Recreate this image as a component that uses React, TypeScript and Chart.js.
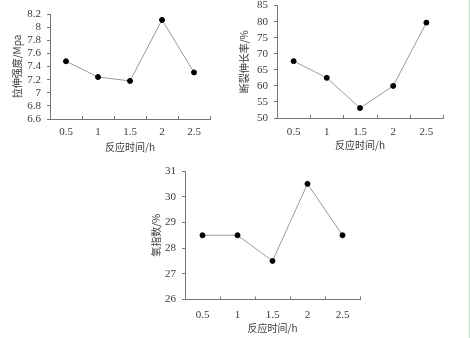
import React, { useEffect, useRef } from "react";
import { Chart, registerables } from "chart.js";

Chart.register(...registerables);

const categories = ["0.5", "1", "1.5", "2", "2.5"];
const tensileStrength = [7.48, 7.24, 7.18, 8.11, 7.31];
const elongation = [67.7, 62.5, 53.1, 60.0, 79.7];
const oxygenIndex = [28.5, 28.5, 27.5, 30.5, 28.5];

const xTitle = "反应时间/h";
const yTitles = ["拉伸强度/Mpa", "断裂伸长率/%", "氧指数/%"];

const NUM_FONT = "'Liberation Serif', 'DejaVu Serif', serif";
const CJK_FONT = "'Noto Sans CJK SC', sans-serif";
const TEXT = "#3a3a3a";
const AXIS = "#777777";

const upTicks = {
  id: "upTicks",
  afterDraw(chart: any) {
    const x = chart.scales.x;
    const ctx = chart.ctx;
    ctx.save();
    ctx.strokeStyle = AXIS;
    ctx.lineWidth = 1;
    ctx.beginPath();
    for (let i = 0; i <= categories.length; i++) {
      const px = Math.round(x.getPixelForValue(i - 0.5)) + 0.5;
      ctx.moveTo(px, x.top);
      ctx.lineTo(px, x.top - 3);
    }
    ctx.stroke();
    ctx.restore();
  },
};

type Spec = {
  data: number[];
  yTitle: string;
  min: number;
  max: number;
  step: number;
  w: number;
  h: number;
  padTop: number;
  padRight: number;
  yWidth: number;
  xHeight: number;
  yTitlePad: number;
  xTitlePad: number;
  xLabelPad: number;
  yLabelPad: number;
};

function LineChart({ spec }: { spec: Spec }) {
  const ref = useRef<HTMLCanvasElement>(null);
  useEffect(() => {
    if (!ref.current) return;
    const chart = new Chart(ref.current, {
      type: "line",
      data: {
        labels: categories,
        datasets: [
          {
            data: spec.data,
            borderColor: "#9a9a9a",
            borderWidth: 1,
            pointBackgroundColor: "#000",
            pointBorderColor: "#000",
            pointRadius: 2.5,
            tension: 0,
          },
        ],
      },
      options: {
        responsive: false,
        animation: false,
        layout: { padding: { top: spec.padTop, right: spec.padRight, left: 0, bottom: 0 } },
        plugins: { legend: { display: false }, tooltip: { enabled: false } },
        scales: {
          x: {
            type: "category",
            offset: true,
            grid: { display: false, drawTicks: false, offset: true },
            border: { display: true, color: AXIS, width: 1 },
            ticks: {
              color: TEXT,
              font: { family: NUM_FONT, size: 11 },
              padding: spec.xLabelPad,
              maxRotation: 0,
              autoSkip: false,
            },
            title: {
              display: true,
              text: xTitle,
              color: TEXT,
              font: { family: CJK_FONT, size: 10 },
              padding: { top: 0, bottom: spec.xTitlePad },
            },
            afterFit: (s: any) => {
              s.height = spec.xHeight;
            },
          },
          y: {
            min: spec.min,
            max: spec.max,
            grid: {
              display: true,
              drawOnChartArea: false,
              drawTicks: true,
              tickLength: 3,
              color: AXIS,
            },
            border: { display: true, color: AXIS, width: 1 },
            ticks: {
              stepSize: spec.step,
              autoSkip: false,
              color: TEXT,
              font: { family: NUM_FONT, size: 11 },
              padding: spec.yLabelPad,
              callback: (v: any) => String(Number(Number(v).toFixed(1))),
            },
            title: {
              display: true,
              text: spec.yTitle,
              color: TEXT,
              font: { family: CJK_FONT, size: 10 },
              padding: { top: spec.yTitlePad, bottom: 0 },
            },
            afterFit: (s: any) => {
              s.width = spec.yWidth;
            },
          },
        },
      },
      plugins: [upTicks],
    } as any);
    return () => chart.destroy();
  }, []);
  return <canvas ref={ref} width={spec.w} height={spec.h} style={{ display: "block", width: spec.w, height: spec.h }} />;
}

const specs: Spec[] = [
  {
    data: tensileStrength, yTitle: yTitles[0], min: 6.6, max: 8.2, step: 0.2,
    w: 235, h: 160, padTop: 14, padRight: 25, yWidth: 50, xHeight: 41,
    yTitlePad: 11, xTitlePad: 7, xLabelPad: 7, yLabelPad: 6,
  },
  {
    data: elongation, yTitle: yTitles[1], min: 50, max: 85, step: 5,
    w: 235, h: 167, padTop: 12, padRight: 27, yWidth: 42, xHeight: 42,
    yTitlePad: 3, xTitlePad: 9, xLabelPad: 8, yLabelPad: 6,
  },
  {
    data: oxygenIndex, yTitle: yTitles[2], min: 26, max: 31, step: 1,
    w: 235, h: 188, padTop: 21, padRight: 15, yWidth: 45, xHeight: 38.5,
    yTitlePad: 10, xTitlePad: 4, xLabelPad: 9, yLabelPad: 6,
  },
];

const positions = [
  { left: 0, top: 0 },
  { left: 235, top: -7 },
  { left: 140, top: 150 },
];

export default function App() {
  return (
    <div style={{ position: "fixed", left: 0, top: 0, width: 470, height: 338, background: "#fff", overflow: "hidden" }}>
      {specs.map((s, i) => (
        <div key={i} style={{ position: "absolute", left: positions[i].left, top: positions[i].top }}>
          <LineChart spec={s} />
        </div>
      ))}
      <div style={{ position: "absolute", left: 469, top: 0, width: 1, height: 338, background: "#b8e3c6" }} />
    </div>
  );
}
